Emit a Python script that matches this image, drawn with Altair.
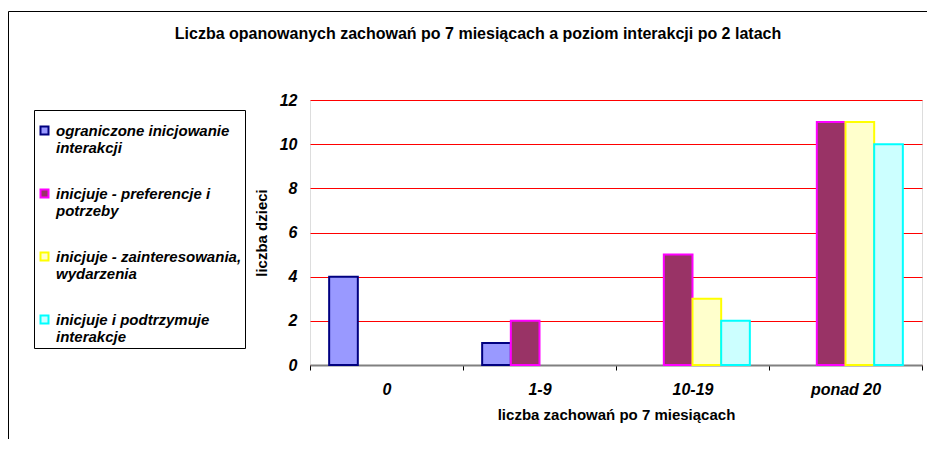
import altair as alt
import pandas as pd

# ---- data ----
categories = ["0", "1-9", "10-19", "ponad 20"]
series = [
    "ograniczone inicjowanie interakcji",
    "inicjuje - preferencje i potrzeby",
    "inicjuje - zainteresowania, wydarzenia",
    "inicjuje i podtrzymuje interakcje",
]
legend_lines = [
    ["ograniczone inicjowanie", "interakcji"],
    ["inicjuje - preferencje i", "potrzeby"],
    ["inicjuje - zainteresowania,", "wydarzenia"],
    ["inicjuje i podtrzymuje", "interakcje"],
]
values_s1 = [4, 1, 0, 0]
values_s2 = [0, 2, 5, 11]
values_s3 = [0, 0, 3, 11]
values_s4 = [0, 0, 2, 10]
y_ticks = [0, 2, 4, 6, 8, 10, 12]

fills = ["#9999FF", "#993366", "#FFFFCC", "#CCFFFF"]
strokes = ["#000080", "#FF00FF", "#FFFF00", "#00FFFF"]

rows = []
for s, vals in zip(series, [values_s1, values_s2, values_s3, values_s4]):
    for c, v in zip(categories, vals):
        rows.append({"kategoria": c, "seria": s, "wartosc": v})
df = pd.DataFrame(rows)

# multi-line legend labels
expr_parts = []
for s, lines in zip(series, legend_lines):
    arr = "[" + ", ".join("'" + l + "'" for l in lines) + "]"
    expr_parts.append(f"datum.label == '{s}' ? {arr} : ")
label_expr = "".join(expr_parts) + "datum.label"

FONT = "Liberation Sans"

legend = alt.Legend(
    title=" ",
    titleFontSize=6,
    titlePadding=4,
    orient="none",
    legendX=-276,
    legendY=10,
    strokeColor="black",
    fillColor="white",
    padding=3,
    symbolType="square",
    symbolSize=64,
    symbolStrokeWidth=2,
    labelFont=FONT,
    labelFontSize=15,
    labelFontStyle="italic",
    labelFontWeight="bold",
    labelColor="black",
    labelLimit=400,
    labelOffset=4,
    labelBaseline="middle",
    rowPadding=29,
    labelExpr=label_expr,
)

bars = alt.Chart(df).transform_filter("datum.wartosc > 0").mark_bar(strokeWidth=2).encode(
    x=alt.X(
        "kategoria:N",
        sort=categories,
        scale=alt.Scale(domain=categories, paddingInner=0, paddingOuter=0),
        axis=alt.Axis(
            title="liczba zachowań po 7 miesiącach",
            labelAngle=0,
            tickBand="extent",
            grid=False,
            domainColor="#808080",
            domainWidth=2,
            tickColor="black",
            tickSize=5,
            labelPadding=11,
            titlePadding=10,
            labelFont=FONT,
            labelFontSize=16,
            labelFontStyle="italic",
            labelFontWeight="bold",
            labelColor="black",
            titleFont=FONT,
            titleFontSize=15,
            titleFontWeight="bold",
            titleColor="black",
        ),
    ),
    xOffset=alt.XOffset(
        "seria:N",
        sort=series,
        scale=alt.Scale(domain=series, paddingInner=0, paddingOuter=0.668),
    ),
    y=alt.Y(
        "wartosc:Q",
        scale=alt.Scale(domain=[0, 12], nice=False),
        axis=alt.Axis(
            title="liczba dzieci",
            values=y_ticks,
            grid=True,
            gridColor="#FF0000",
            gridWidth=1,
            gridOpacity=1,
            domain=False,
            ticks=False,
            labelPadding=13,
            titlePadding=10,
            labelFont=FONT,
            labelFontSize=16,
            labelFontStyle="italic",
            labelFontWeight="bold",
            labelColor="black",
            titleFont=FONT,
            titleFontSize=15,
            titleFontWeight="bold",
            titleColor="black",
        ),
    ),
    fill=alt.Fill("seria:N", sort=series, scale=alt.Scale(domain=series, range=fills), legend=legend),
    stroke=alt.Stroke("seria:N", sort=series, scale=alt.Scale(domain=series, range=strokes), legend=legend),
)

frame = alt.Chart(pd.DataFrame({"a": [0]})).mark_rect(
    filled=False, stroke="black", strokeWidth=1
).encode(
    x=alt.value(-301.5), x2=alt.value(700), y=alt.value(-88.5), y2=alt.value(600)
)

chart = alt.layer(frame, bars).properties(
    width=612,
    height=265,
    title=alt.TitleParams(
        text="Liczba opanowanych zachowań po 7 miesiącach a poziom interakcji po 2 latach",
        font=FONT,
        fontSize=16,
        fontWeight="bold",
        color="black",
        anchor="middle",
        frame="group",
        dx=-138,
        offset=-31,
    ),
    autosize=alt.AutoSizeParams(type="none"),
    padding={"left": 302, "top": 92, "right": 5, "bottom": 74},
).configure_view(stroke=None).configure(background="white")

chart.save("out.html", embed_options={"renderer": "svg", "actions": False})
